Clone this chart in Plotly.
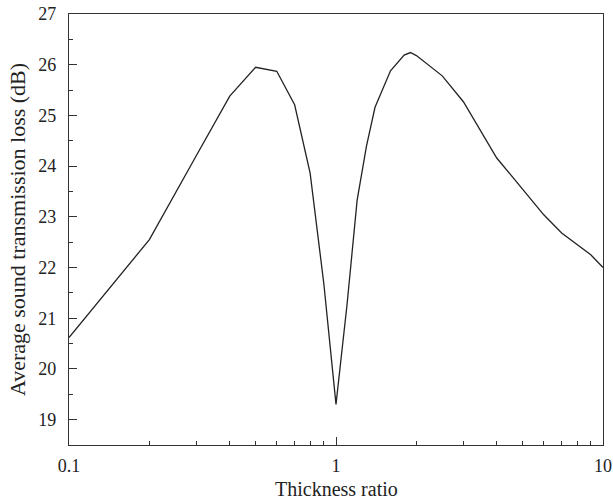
import plotly.graph_objects as go

thickness_ratio = [0.1, 0.2, 0.3, 0.4, 0.5, 0.6, 0.7, 0.8, 0.9, 1.0,
                   1.1, 1.2, 1.3, 1.4, 1.6, 1.8, 1.9, 2.0, 2.5, 3.0,
                   4.0, 5.0, 6.0, 7.0, 8.0, 9.0, 10.0]
avg_stl_db = [20.62, 22.55, 24.21, 25.38, 25.95, 25.87, 25.21, 23.86, 21.69, 19.3,
              21.27, 23.33, 24.39, 25.16, 25.88, 26.19, 26.24, 26.18, 25.78, 25.27,
              24.16, 23.55, 23.04, 22.68, 22.45, 22.25, 22.0]

x_major = [0.1, 1, 10]
x_major_labels = ["0.1", "1", "10"]
x_minor = [0.2, 0.3, 0.4, 0.5, 0.6, 0.7, 0.8, 0.9, 2, 3, 4, 5, 6, 7, 8, 9]

font_family = "Liberation Serif, Times New Roman, serif"
axis_color = "#333333"

fig = go.Figure()
fig.add_trace(go.Scatter(
    x=thickness_ratio, y=avg_stl_db, mode="lines",
    line=dict(color="#222222", width=1.3),
    showlegend=False,
))

fig.update_layout(
    width=613, height=502,
    margin=dict(l=69, r=10, t=14, b=57),
    paper_bgcolor="white", plot_bgcolor="white",
    font=dict(family=font_family, size=18, color="#222222"),
)
fig.update_xaxes(
    type="log", range=[-1, 1],
    tickvals=x_major, ticktext=x_major_labels,
    tickfont=dict(size=18),
    ticks="inside", ticklen=8, tickwidth=1.3, tickcolor=axis_color,
    minor=dict(tickvals=x_minor, ticks="inside", ticklen=4, tickwidth=1.2, tickcolor=axis_color),
    showline=True, linecolor=axis_color, linewidth=1.4, mirror=True,
    showgrid=False, zeroline=False, automargin=False,
    ticklabelstandoff=4,
)
fig.update_yaxes(
    range=[18.5, 27], tick0=19, dtick=1,
    tickfont=dict(size=18),
    ticks="inside", ticklen=8, tickwidth=1.3, tickcolor=axis_color,
    minor=dict(dtick=0.5, tick0=18.5, ticks="inside", ticklen=4, tickwidth=1.2, tickcolor=axis_color),
    showline=True, linecolor=axis_color, linewidth=1.4, mirror=True,
    showgrid=False, zeroline=False, automargin=False,
    ticklabelstandoff=8,
    title=dict(text="Average sound transmission loss (dB)", font=dict(size=22), standoff=6),
)
fig.add_annotation(
    text="Thickness ratio", xref="paper", yref="paper",
    x=0.5, y=-0.1323, xanchor="center", yanchor="bottom",
    showarrow=False, font=dict(family=font_family, size=20, color="#222222"),
)

fig.write_html("out.html")
